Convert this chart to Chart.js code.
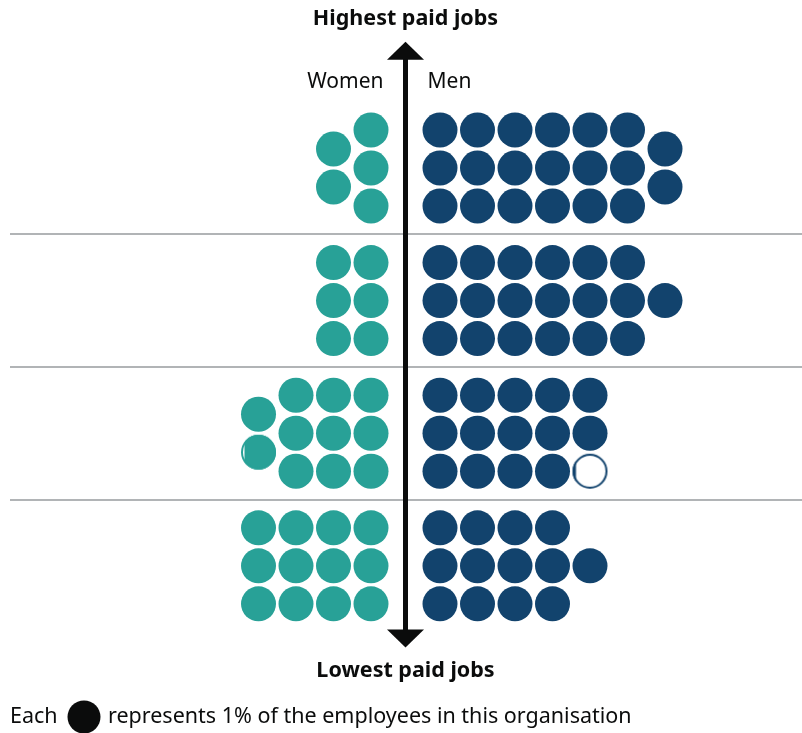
<!DOCTYPE html>
<html>
<head>
<meta charset="utf-8">
<script src="https://cdn.jsdelivr.net/npm/chart.js@4"></script>
<style>
    body { margin: 0; background: #fff; }
    canvas { display: block; }
</style>
</head>
<body>
<canvas id="DotChart" width="802" height="733"></canvas>
<script>
// percentage of all employees, per pay quartile (top = highest paid)
const quartiles = ["Upper quartile", "Upper middle quartile", "Lower middle quartile", "Lower quartile"];
const womenPct = [5, 6, 10.9, 12];
const menPct = [20, 19, 14.1, 13];
const sideLabels = ["Women", "Men"];
const topLabel = "Highest paid jobs";
const bottomLabel = "Lowest paid jobs";
const footnote = ["Each", "represents 1% of the employees in this organisation"];

const womenColour = "rgb(40, 161, 151)";
const menColour = "rgb(18, 67, 109)";
const inkColour = "#0b0c0c";
const lineColour = "#b1b4b6";
const dotRadius = 17.5;
const bandRows = 3.49;   // rows per quartile band incl. gap
const font = '"Noto Sans", sans-serif';

// each dot = 1%, stacked in columns of 3 out from the axis
function buildDots(values, side){
    const pts = [];
    values.forEach((v, q) => {
        const total = Math.ceil(v);
        const fullCols = Math.floor(total / 3);
        const rest = total - fullCols * 3;
        let k = 0;
        for(let c = 0; c <= fullCols; c++){
            const n = c < fullCols ? 3 : rest;
            const rows = n === 3 ? [0, 1, 2] : n === 2 ? [0.5, 1.5] : n === 1 ? [1] : [];
            for(const r of rows){
                k++;
                const f = k > v ? v - Math.floor(v) : 1;
                pts.push({x: side * (0.92 + c), y: q * bandRows + r, f: f, q: quartiles[q]});
            }
        }
    });
    return pts;
}

function partialDot(colour, frac, fromRight){
    const s = Math.ceil(dotRadius * 2 + 4);
    const c = document.createElement("canvas");
    c.width = s; c.height = s;
    const g = c.getContext("2d");
    const m = s / 2;
    g.save();
    g.beginPath(); g.arc(m, m, dotRadius, 0, Math.PI * 2); g.clip();
    const w = dotRadius * 2 * frac;
    g.fillStyle = colour;
    if(fromRight) g.fillRect(m + dotRadius - w, 0, w, s);
    else g.fillRect(m - dotRadius, 0, w, s);
    g.restore();
    g.beginPath(); g.arc(m, m, dotRadius - 1, 0, Math.PI * 2);
    g.strokeStyle = colour; g.lineWidth = 2; g.stroke();
    return c;
}

function dotStyle(colour, fromRight){
    return ctx => {
        const raw = ctx.raw;
        if(!raw || raw.f >= 1) return "circle";
        return partialDot(colour, raw.f, fromRight);
    };
}

const overlay = {
    id: "overlay",
    afterDatasetsDraw(chart){
        const g = chart.ctx;
        const xs = chart.scales.x, ys = chart.scales.y;
        const cx = xs.getPixelForValue(0);
        g.save();

        // separators between quartiles
        g.strokeStyle = lineColour; g.lineWidth = 2;
        for(let q = 0; q < quartiles.length - 1; q++){
            const y = Math.round(ys.getPixelForValue(q * bandRows + 2.75));
            g.beginPath(); g.moveTo(10, y); g.lineTo(chart.width, y); g.stroke();
        }

        // vertical arrow
        const top = ys.getPixelForValue(-2.32);
        const bot = ys.getPixelForValue((quartiles.length - 1) * bandRows + 3.15);
        g.strokeStyle = inkColour; g.fillStyle = inkColour; g.lineWidth = 5;
        g.beginPath(); g.moveTo(cx, top + 15); g.lineTo(cx, bot - 15); g.stroke();
        g.beginPath(); g.moveTo(cx, top); g.lineTo(cx - 18.5, top + 18); g.lineTo(cx + 18.5, top + 18); g.closePath(); g.fill();
        g.beginPath(); g.moveTo(cx, bot); g.lineTo(cx - 18.5, bot - 18); g.lineTo(cx + 18.5, bot - 18); g.closePath(); g.fill();

        // labels
        g.fillStyle = inkColour;
        g.textBaseline = "middle";
        g.textAlign = "center";
        g.font = "bold 21.5px " + font;
        g.fillText(topLabel, cx, 19);
        g.fillText(bottomLabel, cx, 671);
        g.font = "21px " + font;
        g.textAlign = "right";
        g.fillText(sideLabels[0], cx - 22, 82);
        g.textAlign = "left";
        g.fillText(sideLabels[1], cx + 22, 82);

        // footnote with key dot
        g.font = "21.5px " + font;
        g.fillText(footnote[0], 10, 717);
        g.beginPath(); g.arc(84, 717, 16.5, 0, Math.PI * 2); g.fill();
        g.fillText(footnote[1], 108, 717);
        g.restore();
    }
};

new Chart(document.querySelector("#DotChart"), {
    type: "scatter",
    data: {
        datasets: [{
            label: sideLabels[0],
            data: buildDots(womenPct, -1),
            backgroundColor: womenColour,
            borderWidth: 0,
            pointRadius: dotRadius,
            pointHoverRadius: dotRadius,
            pointStyle: dotStyle(womenColour, true)
        }, {
            label: sideLabels[1],
            data: buildDots(menPct, 1),
            backgroundColor: menColour,
            borderWidth: 0,
            pointRadius: dotRadius,
            pointHoverRadius: dotRadius,
            pointStyle: dotStyle(menColour, false)
        }]
    },
    options: {
        responsive: false,
        animation: false,
        devicePixelRatio: 1,
        layout: { padding: 0, autoPadding: false },
        plugins: { legend: { display: false }, tooltip: { enabled: false } },
        scales: {
            x: { type: "linear", display: false, min: -405.5 / 37.5, max: (802 - 405.5) / 37.5 },
            y: { type: "linear", display: false, reverse: true, min: -130 / 38, max: (733 - 130) / 38 }
        }
    },
    plugins: [overlay]
});
</script>
</body>
</html>
